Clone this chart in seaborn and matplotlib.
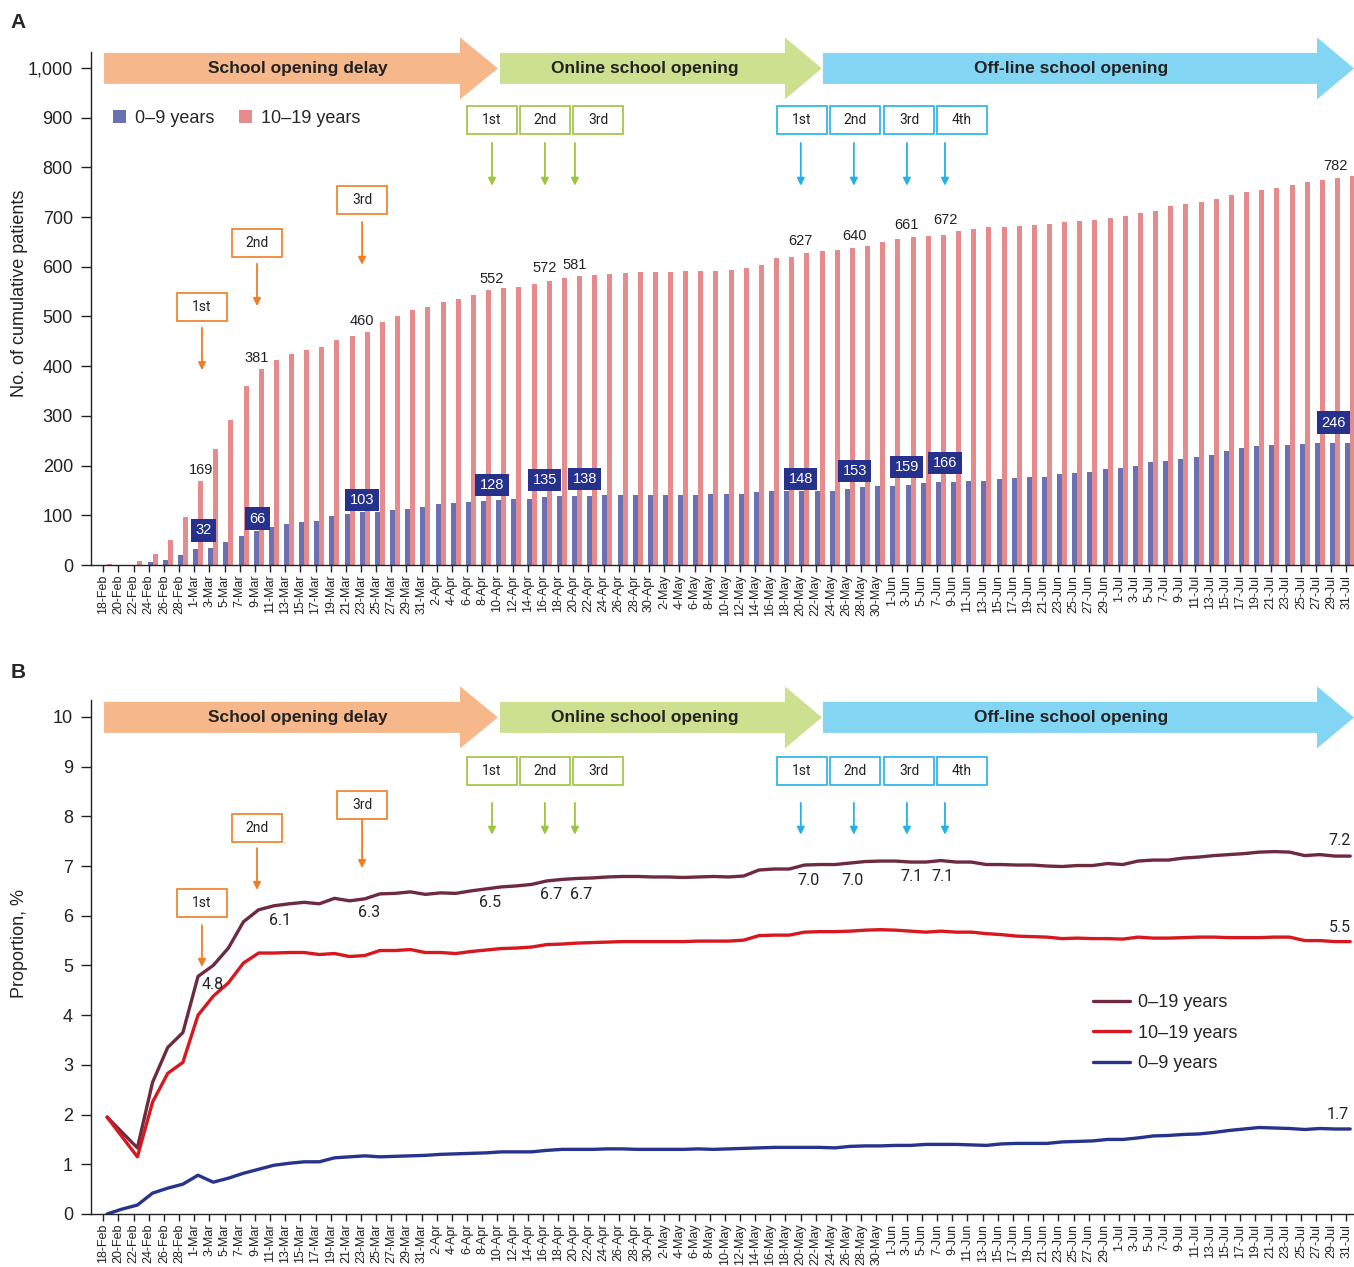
import numpy as np
import pandas as pd
import matplotlib
matplotlib.use("Agg")
import matplotlib.pyplot as plt
from matplotlib.patches import Polygon, Rectangle
from matplotlib.ticker import FuncFormatter
import seaborn as sns

# dates every 2 days, 18-Feb .. 31-Jul 2020
dates = pd.date_range("2020-02-18", "2020-07-31", freq="2D")
date_labels = [f"{d.day}-{d:%b}" for d in dates]
n = len(date_labels)

# panel A: cumulative patients
patients_0_9 = [0, 0, 1, 6, 10, 20, 32, 34, 46, 58,
                68, 76, 82, 86, 88, 98, 102, 106, 107, 111,
                113, 117, 123, 125, 127, 129, 131, 133, 133, 137,
                139, 139, 139, 141, 141, 141, 141, 141, 141, 141,
                143, 143, 143, 147, 149, 149, 149, 149, 149, 153,
                157, 159, 159, 161, 165, 167, 167, 169, 169, 173,
                175, 177, 177, 183, 185, 187, 193, 195, 199, 207,
                209, 213, 217, 221, 229, 235, 239, 241, 241, 243,
                245, 245, 246]
patients_10_19 = [2, 0, 8, 22, 50, 97, 169, 233, 292, 360,
                  394, 412, 424, 433, 439, 453, 461, 469, 489, 501,
                  513, 519, 529, 535, 543, 553, 557, 560, 566, 572,
                  577, 581, 583, 586, 587, 589, 589, 590, 591, 591,
                  592, 594, 597, 603, 618, 620, 627, 632, 634, 637,
                  641, 650, 656, 660, 662, 664, 672, 675, 679, 680,
                  681, 683, 686, 690, 692, 694, 698, 702, 708, 712,
                  722, 726, 730, 737, 745, 751, 755, 759, 764, 771,
                  775, 779, 782]

# panel B: proportion, %
prop_0_19 = [1.95, 1.64, 1.33, 2.65, 3.35, 3.65, 4.78, 5.0, 5.35, 5.88,
             6.12, 6.2, 6.24, 6.27, 6.24, 6.35, 6.3, 6.34, 6.44, 6.45,
             6.48, 6.43, 6.46, 6.45, 6.5, 6.54, 6.58, 6.6, 6.63, 6.7,
             6.73, 6.75, 6.76, 6.78, 6.79, 6.79, 6.78, 6.78, 6.77, 6.78,
             6.79, 6.78, 6.8, 6.92, 6.94, 6.94, 7.02, 7.03, 7.03, 7.06,
             7.09, 7.1, 7.1, 7.08, 7.08, 7.11, 7.08, 7.08, 7.03, 7.03,
             7.02, 7.02, 7.0, 6.99, 7.01, 7.01, 7.05, 7.03, 7.1, 7.12,
             7.12, 7.16, 7.18, 7.21, 7.23, 7.25, 7.28, 7.29, 7.28, 7.21,
             7.23, 7.2, 7.2]
prop_10_19 = [1.95, 1.55, 1.15, 2.25, 2.83, 3.05, 4.0, 4.38, 4.65, 5.05,
              5.25, 5.25, 5.26, 5.26, 5.22, 5.24, 5.18, 5.2, 5.3, 5.3,
              5.32, 5.26, 5.26, 5.24, 5.28, 5.31, 5.34, 5.35, 5.37, 5.42,
              5.43, 5.45, 5.46, 5.47, 5.48, 5.48, 5.48, 5.48, 5.48, 5.49,
              5.49, 5.49, 5.51, 5.6, 5.61, 5.61, 5.67, 5.68, 5.68, 5.69,
              5.71, 5.72, 5.71, 5.69, 5.67, 5.69, 5.67, 5.67, 5.64, 5.62,
              5.59, 5.58, 5.57, 5.54, 5.55, 5.54, 5.54, 5.53, 5.57, 5.55,
              5.55, 5.56, 5.57, 5.57, 5.56, 5.56, 5.56, 5.57, 5.57, 5.5,
              5.5, 5.48, 5.48]
prop_0_9 = [0.0, 0.1, 0.18, 0.42, 0.52, 0.6, 0.78, 0.64, 0.72, 0.82,
            0.9, 0.98, 1.02, 1.05, 1.05, 1.13, 1.15, 1.17, 1.15, 1.16,
            1.17, 1.18, 1.2, 1.21, 1.22, 1.23, 1.25, 1.25, 1.25, 1.28,
            1.3, 1.3, 1.3, 1.31, 1.31, 1.3, 1.3, 1.3, 1.3, 1.31,
            1.3, 1.31, 1.32, 1.33, 1.34, 1.34, 1.34, 1.34, 1.33, 1.36,
            1.37, 1.37, 1.38, 1.38, 1.4, 1.4, 1.4, 1.39, 1.38, 1.41,
            1.42, 1.42, 1.42, 1.45, 1.46, 1.47, 1.5, 1.5, 1.53, 1.57,
            1.58, 1.6, 1.61, 1.64, 1.68, 1.71, 1.74, 1.73, 1.72, 1.7,
            1.72, 1.71, 1.71]

# annotations
pink_labels = [(6.2, "169"), (9.89, "381"), (16.82, "460"), (25.39, "552"), (28.88, "572"),
               (30.86, "581"), (45.76, "627"), (49.33, "640"), (52.76, "661"), (55.27, "672"),
               (81.0, "782")]
pink_label_y = [191, 417, 491, 575, 598, 604, 652, 662, 684, 694, 803]
blue_labels = [(6.39, "32"), (9.89, "66"), (16.82, "103"), (25.39, "128"), (28.88, "135"),
               (31.52, "138"), (45.76, "148"), (49.33, "153"), (52.76, "159"), (55.27, "166"),
               (80.9, "246")]
blue_label_y = [70, 93, 131, 161, 171, 173, 173, 189, 197, 205, 286]

prop_labels = [(6.99, 4.61, "4.8"), (11.4, 5.9, "6.1"), (17.27, 6.06, "6.3"), (25.25, 6.26, "6.5"),
               (29.28, 6.42, "6.7"), (31.26, 6.42, "6.7"), (46.24, 6.7, "7.0"), (49.2, 6.7, "7.0"),
               (53.03, 6.78, "7.1"), (55.08, 6.78, "7.1"), (81.33, 7.52, "7.2"), (81.33, 5.77, "5.5"),
               (81.2, 2.01, "1.7")]

phases = [(-0.2, 23.28, 25.78, "#F6B88B", "School opening delay", 12.6),
          (25.92, 44.71, 47.15, "#CDE08F", "Online school opening", 35.48),
          (47.22, 79.81, 82.25, "#82D6F4", "Off-line school opening", 63.58)]

ORANGE, GREEN, CYAN = "#F07D22", "#9CC43C", "#22B1E8"
delay_x = [6.26, 9.89, 16.82]
online_box_x = [25.39, 28.88, 32.38]
online_arrow_x = [25.39, 28.88, 30.86]
offline_box_x = [45.83, 49.33, 52.9, 56.39]
offline_arrow_x = [45.76, 49.26, 52.76, 55.27]
ordinals = ["1st", "2nd", "3rd", "4th"]

sns.set_theme(style="ticks")
plt.rcParams["font.family"] = ["Liberation Sans", "DejaVu Sans"]
TXT = "#222222"

fig = plt.figure(figsize=(13.54, 12.67), dpi=100)
W, H = 1354, 1267
axA = fig.add_axes([91 / W, (H - 565) / H, (W - 91) / W, (565 - 52) / H])
axB = fig.add_axes([91 / W, (H - 1214) / H, (W - 91) / W, (1214 - 700) / H])

# ---- panel A bars
dfA = pd.DataFrame({
    "date": date_labels * 2,
    "group": ["0\u20139 years"] * n + ["10\u201319 years"] * n,
    "patients": patients_0_9 + patients_10_19,
})
sns.barplot(data=dfA, x="date", y="patients", hue="group", order=date_labels,
            hue_order=["0\u20139 years", "10\u201319 years"], palette=["#6A70B0", "#E58A8D"],
            width=0.66, saturation=1, errorbar=None, linewidth=0, edgecolor="none", ax=axA)

# ---- panel B lines
dfB = pd.DataFrame({
    "k": np.tile(np.arange(n), 3),
    "prop": prop_0_19 + prop_10_19 + prop_0_9,
    "group": ["0\u201319 years"] * n + ["10\u201319 years"] * n + ["0\u20139 years"] * n,
})
sns.lineplot(data=dfB, x="k", y="prop", hue="group",
             hue_order=["0\u201319 years", "10\u201319 years", "0\u20139 years"],
             palette=["#6D2B3D", "#D7191F", "#27338D"], linewidth=2.4, ax=axB)

for ax in (axA, axB):
    sns.despine(ax=ax)
    ax.set_xlim(-1.06, 82.25)
    ax.set_xticks(np.arange(n) - 0.25, date_labels, rotation=90)
    ax.set_xlabel("")
    ax.tick_params(axis="x", length=5, width=1, labelsize=9, pad=2, colors=TXT)
    ax.tick_params(axis="y", length=7, width=1, labelsize=13, pad=6, colors=TXT)
    for s in ax.spines.values():
        s.set_color("#222222")
        s.set_linewidth(1)

axA.set_ylim(0, 1032)
axA.set_yticks(range(0, 1001, 100))
axA.yaxis.set_major_formatter(FuncFormatter(lambda v, p: f"{int(v):,}"))
axA.set_ylabel("No. of cumulative patients", fontsize=13, color=TXT)
axA.yaxis.set_label_coords(-0.05, 0.53)

axB.set_ylim(0, 10.34)
axB.set_yticks(range(0, 11))
axB.set_ylabel("Proportion, %", fontsize=13, color=TXT)
axB.yaxis.set_label_coords(-0.05, 0.527)

sns.move_legend(axA, "upper left", bbox_to_anchor=(0.0174, 0.887), ncol=2, title=None,
                frameon=False, fontsize=13, handlelength=0.7, handleheight=0.7,
                columnspacing=1.4, handletextpad=0.5, borderpad=0, borderaxespad=0)
sns.move_legend(axB, "upper left", bbox_to_anchor=(0.7934, 0.428), title=None,
                frameon=False, fontsize=13, handlelength=2.05, handletextpad=0.45,
                borderpad=0, borderaxespad=0, labelspacing=0.75)


def draw_phases(ax, ymid, body_h, head_h):
    for x0, xb, xt, color, text, xc in phases:
        pts = [(x0, ymid - body_h / 2), (xb, ymid - body_h / 2), (xb, ymid - head_h / 2),
               (xt, ymid), (xb, ymid + head_h / 2), (xb, ymid + body_h / 2),
               (x0, ymid + body_h / 2)]
        ax.add_patch(Polygon(pts, closed=True, facecolor=color, edgecolor="none",
                             clip_on=False, zorder=5))
        ax.text(xc, ymid, text, ha="center", va="center", fontsize=12.5,
                fontweight="bold", color=TXT, zorder=6)


def draw_box(ax, x, y, w, h, label, color):
    ax.add_patch(Rectangle((x - w / 2, y - h / 2), w, h, facecolor="white",
                           edgecolor=color, linewidth=1.2, zorder=6, clip_on=False))
    ax.text(x, y, label, ha="center", va="center", fontsize=10, color=TXT, zorder=7,
            family=["Roboto", "DejaVu Sans"])


def draw_arrow(ax, x, y0, y1, color):
    ax.annotate("", xy=(x, y1), xytext=(x, y0),
                arrowprops=dict(arrowstyle="-|>", color=color, lw=1.3,
                                mutation_scale=11, shrinkA=0, shrinkB=0), zorder=6)


def draw_events(ax, ys, box_h):
    (b1, a1s, a1e), (b2, a2s, a2e), (b3, a3s, a3e), (bg, ags, age) = ys
    bw = 3.3
    for x, lab, by, y0, y1 in zip(delay_x, ordinals, (b1, b2, b3), (a1s, a2s, a3s), (a1e, a2e, a3e)):
        draw_box(ax, x, by, bw, box_h, lab, ORANGE)
        draw_arrow(ax, x, y0, y1, ORANGE)
    for x, lab in zip(online_box_x, ordinals):
        draw_box(ax, x, bg, bw, box_h, lab, GREEN)
    for x in online_arrow_x:
        draw_arrow(ax, x, ags, age, GREEN)
    for x, lab in zip(offline_box_x, ordinals):
        draw_box(ax, x, bg, bw, box_h, lab, CYAN)
    for x in offline_arrow_x:
        draw_arrow(ax, x, ags, age, CYAN)


# panel A annotations
draw_phases(axA, 999, 62.4, 124.7)
draw_events(axA, [(519, 477, 392), (648, 606, 521), (734, 690, 604), (895, 849, 763)], 56.3)
for (x, t), y in zip(pink_labels, pink_label_y):
    axA.text(x, y, t, ha="center", va="center", fontsize=10.5, color=TXT, zorder=7)
for (x, t), y in zip(blue_labels, blue_label_y):
    axA.text(x, y, t, ha="center", va="center", fontsize=10.5, color="white", zorder=7,
             bbox=dict(boxstyle="square,pad=0.3", facecolor="#25318A", edgecolor="none"))

# panel B annotations
draw_phases(axB, 9.99, 0.624, 1.25)
draw_events(axB, [(6.26, 5.81, 4.97), (7.77, 7.36, 6.52), (8.23, 7.93, 6.96), (8.91, 8.27, 7.63)], 0.563)
for x, y, t in prop_labels:
    axB.text(x, y, t, ha="center", va="center", fontsize=11.5, color=TXT, zorder=7,
             family=["Roboto", "DejaVu Sans"])

fig.text(18 / W, 1 - 22 / H, "A", fontsize=15, fontweight="bold", va="center", ha="center")
fig.text(18 / W, 1 - 672 / H, "B", fontsize=15, fontweight="bold", va="center", ha="center")

fig.savefig("out.png", dpi=100)
